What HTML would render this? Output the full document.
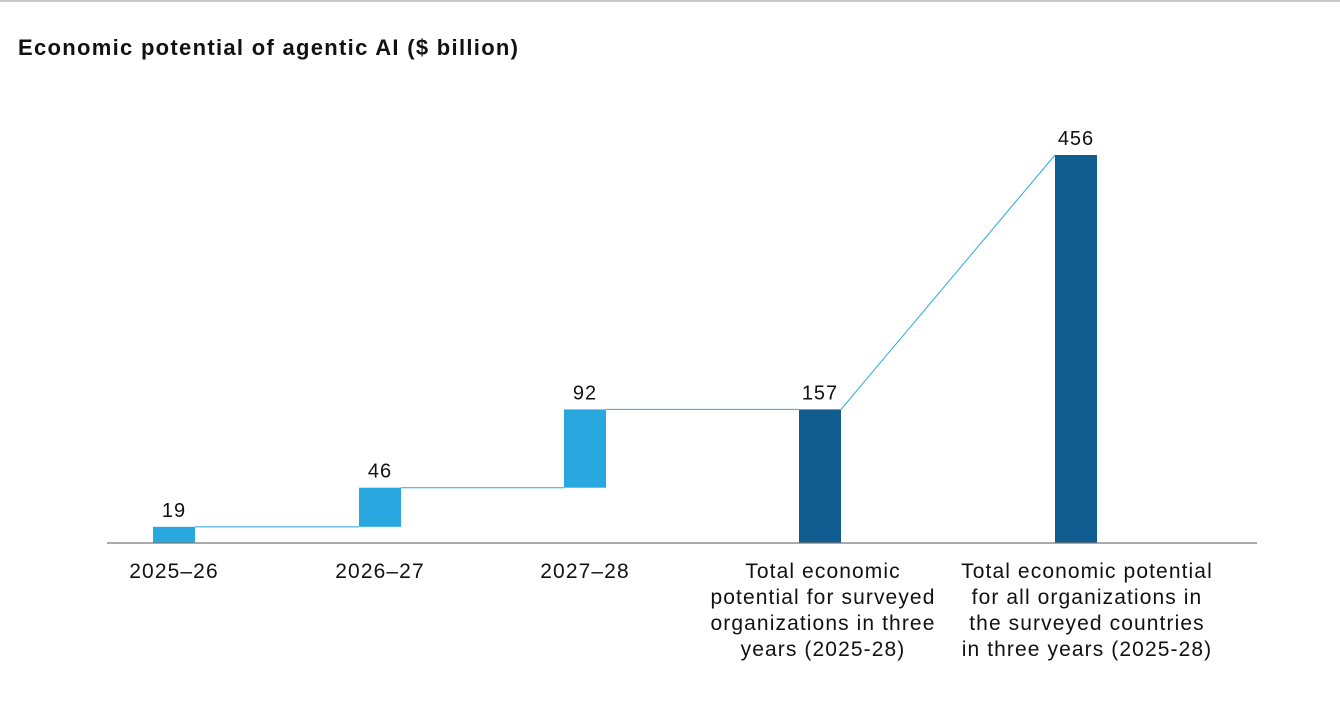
<!DOCTYPE html>
<html><head><meta charset="utf-8"><style>
body{margin:0;background:#fff;width:1340px;height:700px;overflow:hidden;font-family:"Liberation Sans",sans-serif}
</style></head><body>
<svg width="1340" height="700">
<line x1="0" y1="1" x2="1340" y2="1" stroke="#c8c8c8" stroke-width="2"/>
<text x="18" y="55" font-size="22" font-weight="bold" letter-spacing="1.3" fill="#111">Economic potential of agentic AI ($ billion)</text>
<g id="marks"></g>
<line x1="107" y1="543" x2="1257" y2="543" stroke="#777" stroke-width="1.2"/>
</svg>
<script>
const categories=[["2025–26"],["2026–27"],["2027–28"],["Total economic","potential for surveyed","organizations in three","years (2025-28)"],["Total economic potential","for all organizations in","the surveyed countries","in three years (2025-28)"]];
const values=[19,46,92,157,456];
const isTotal=[false,false,false,true,true];
const centers=[174,380,585,820,1076];
const labelX=[174,380,585,823,1087];
const base0=543, scale=388/456, bw=42;
const y=v=>base0-v*scale;
const g=document.getElementById('marks');
const ns='http://www.w3.org/2000/svg';
let cum=0, prev=null;
values.forEach((v,i)=>{
  let lo,hi;
  if(isTotal[i]){lo=0;hi=v;}else{lo=cum;hi=cum+v;cum=hi;}
  const x=centers[i]-bw/2;
  if(prev){
    const l=document.createElementNS(ns,'line');
    
    
    l.setAttribute('x1',prev.x);l.setAttribute('y1',y(prev.v));
    l.setAttribute('x2',x);l.setAttribute('y2',isTotal[i]?y(hi):y(lo));
    l.setAttribute('stroke','#29a8df');l.setAttribute('stroke-width','1');
    g.appendChild(l);
  }
  const r=document.createElementNS(ns,'rect');
  
  
  r.setAttribute('x',x);r.setAttribute('y',y(hi));r.setAttribute('width',bw);r.setAttribute('height',y(lo)-y(hi));
  r.setAttribute('fill',isTotal[i]?'#125d8f':'#29a8df');
  g.appendChild(r);
  const t=document.createElementNS(ns,'text');
  
  
  t.setAttribute('x',centers[i]);t.setAttribute('y',y(hi)-10);t.setAttribute('text-anchor','middle');
  t.setAttribute('font-size','20');t.setAttribute('letter-spacing','1');t.setAttribute('fill','#111');t.textContent=values[i];
  g.appendChild(t);
  categories[i].forEach((s,j)=>{
    const c=document.createElementNS(ns,'text');
    
    
    c.setAttribute('x',labelX[i]);c.setAttribute('y',578+j*26);c.setAttribute('text-anchor','middle');
    c.setAttribute('font-size','21');c.setAttribute('letter-spacing','1.1');c.setAttribute('fill','#111');c.textContent=s;
    g.appendChild(c);
  });
  prev={x:x+bw,v:hi};
});
</script>
</body></html>
